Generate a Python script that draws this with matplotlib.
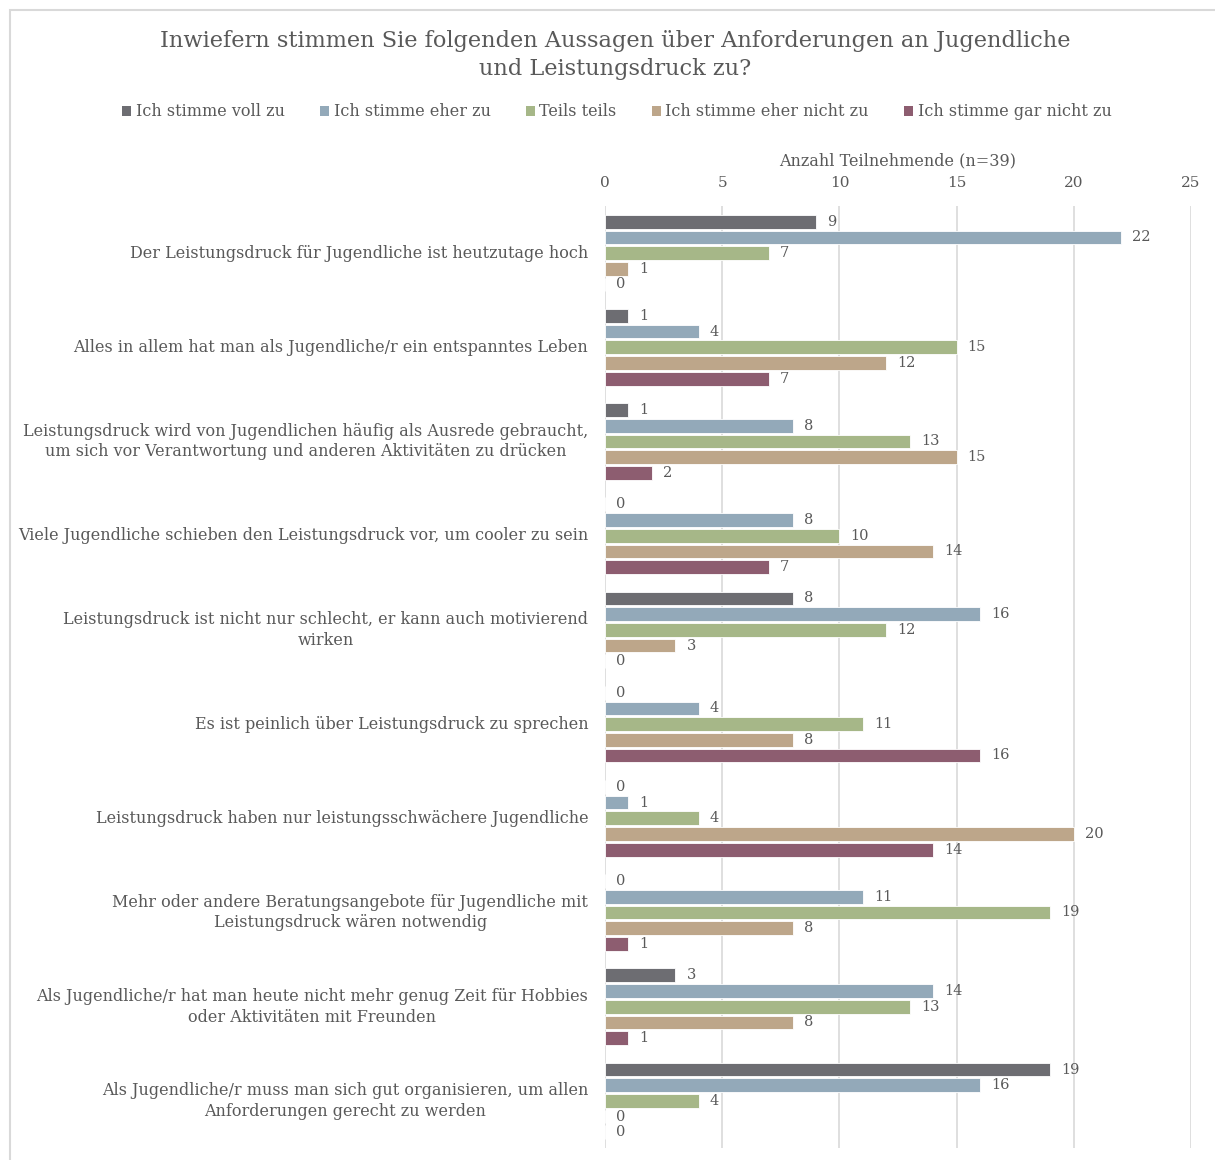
import matplotlib
matplotlib.use("Agg")
import matplotlib.pyplot as plt
import numpy as np
from matplotlib.patches import Patch

plt.rcParams['font.family'] = ['DejaVu Serif']

statements = [
    "Der Leistungsdruck für Jugendliche ist heutzutage hoch",
    "Alles in allem hat man als Jugendliche/r ein entspanntes Leben",
    "Leistungsdruck wird von Jugendlichen häufig als Ausrede gebraucht,\num sich vor Verantwortung und anderen Aktivitäten zu drücken",
    "Viele Jugendliche schieben den Leistungsdruck vor, um cooler zu sein",
    "Leistungsdruck ist nicht nur schlecht, er kann auch motivierend\nwirken",
    "Es ist peinlich über Leistungsdruck zu sprechen",
    "Leistungsdruck haben nur leistungsschwächere Jugendliche",
    "Mehr oder andere Beratungsangebote für Jugendliche mit\nLeistungsdruck wären notwendig",
    "Als Jugendliche/r hat man heute nicht mehr genug Zeit für Hobbies\noder Aktivitäten mit Freunden",
    "Als Jugendliche/r muss man sich gut organisieren, um allen\nAnforderungen gerecht zu werden",
]

series_names = [
    "Ich stimme voll zu",
    "Ich stimme eher zu",
    "Teils teils",
    "Ich stimme eher nicht zu",
    "Ich stimme gar nicht zu",
]

voll_zu = [9, 1, 1, 0, 8, 0, 0, 0, 3, 19]
eher_zu = [22, 4, 8, 8, 16, 4, 1, 11, 14, 16]
teils_teils = [7, 15, 13, 10, 12, 11, 4, 19, 13, 4]
eher_nicht_zu = [1, 12, 15, 14, 3, 8, 20, 8, 8, 0]
gar_nicht_zu = [0, 7, 2, 7, 0, 16, 14, 1, 1, 0]

colors = ["#6d6d72", "#93a9b9", "#a6b788", "#bda68a", "#8d5d70"]
text_color = "#595959"

all_series = [voll_zu, eher_zu, teils_teils, eher_nicht_zu, gar_nicht_zu]

fig = plt.figure(figsize=(12.15, 11.6), dpi=100)

# light frame around the chart area
frame = plt.Rectangle((10 / 1215, -0.01), 1.01, 1 - 10 / 1160 + 0.01,
                      transform=fig.transFigure, fill=False,
                      edgecolor="#d9d9d9", linewidth=1.5)
fig.patches.append(frame)

ax = fig.add_axes([605 / 1215, 1 - 1148 / 1160, (1191 - 605) / 1215, (1148 - 206) / 1160])

n = len(statements)
y = np.arange(n)
slot = 1 / 6
bar_h = 0.145

for j, (vals, col) in enumerate(zip(all_series, colors)):
    pos = y + (j - 2) * slot
    bars = ax.barh(pos, vals, height=bar_h, color=col, edgecolor="white",
                   linewidth=0.6, zorder=3)
    ax.bar_label(bars, labels=[str(v) for v in vals], padding=8,
                 fontsize=10.5, color=text_color)

ax.set_ylim(n - 0.5, -0.5)
ax.set_xlim(0, 25)
ax.set_yticks(y)
ax.set_yticklabels(statements, fontsize=11.5, color=text_color, va="center")
ax.tick_params(axis="y", length=0, pad=12)
for lbl in ax.get_yticklabels():
    lbl.set_multialignment("center")
    lbl.set_linespacing(1.3)

ax.xaxis.tick_top()
ax.xaxis.set_label_position("top")
ax.set_xticks(np.arange(0, 26, 5))
ax.tick_params(axis="x", length=0, pad=11.5, labelsize=11, labelcolor=text_color)
ax.set_xlabel("Anzahl Teilnehmende (n=39)", fontsize=11.5, color=text_color, labelpad=8)
ax.grid(axis="x", color="#d9d9d9", linewidth=1.2, zorder=0)
for s in ax.spines.values():
    s.set_visible(False)

fig.text(615 / 1215, 1 - 55 / 1160,
         "Inwiefern stimmen Sie folgenden Aussagen über Anforderungen an Jugendliche\nund Leistungsdruck zu?",
         ha="center", va="center", fontsize=16.2, color=text_color, linespacing=1.4)

handles = [Patch(facecolor=c, edgecolor="none") for c in colors]
fig.legend(handles, series_names, loc="center", bbox_to_anchor=(617 / 1215, 1 - 112 / 1160),
           ncol=5, frameon=False, fontsize=11.5, labelcolor=text_color,
           handlelength=0.55, handleheight=0.55, handletextpad=0.3, columnspacing=2.2)

fig.savefig("out.png", dpi=100, facecolor="white")
